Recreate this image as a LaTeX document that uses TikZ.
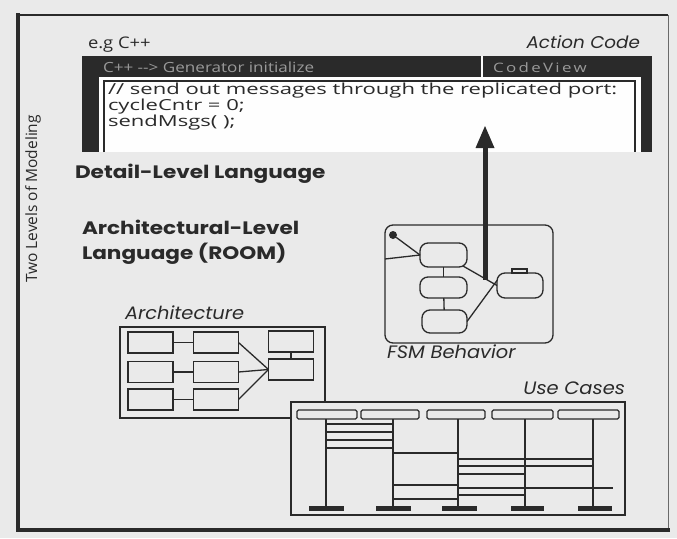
\documentclass[tikz,border=0pt]{standalone}
\usepackage{fontspec}
\setmainfont{Open Sans}
\newfontfamily\codefont{Open Sans}[FakeStretch=1.45]
\newfontfamily\hdrfont{Open Sans}[FakeStretch=1.22]
\newfontfamily\cvfont{Open Sans}[FakeStretch=1.3, LetterSpace=18]
\newfontfamily\headfont{Poppins}[FakeStretch=1.2]
\newfontfamily\labfont{Poppins}[FakeStretch=1.08]
\newfontfamily\egfont{Open Sans}[FakeStretch=1.15]
\definecolor{bg}{HTML}{EAEAEA}
\definecolor{ink}{HTML}{2A2A2A}
\definecolor{hdr}{HTML}{9A9A9A}
\begin{document}
\begin{tikzpicture}[x=1pt,y=-1pt,
  every node/.style={inner sep=0pt, outer sep=0pt},
  thinline/.style={draw=ink, line width=1.3pt},
  blk/.style={draw=ink, line width=1.3pt, fill=bg, rectangle, minimum width=45pt, minimum height=21pt},
  state/.style={draw=ink, line width=1.3pt, fill=bg, rectangle, rounded corners=8pt},
  lhead/.style={draw=ink, line width=1.2pt, fill=bg, rectangle, rounded corners=1.5pt, minimum height=9pt},
  bar/.style={fill=ink, rectangle, minimum height=5pt},
  msg/.style={draw=ink, line width=1.2pt},
  codetxt/.style={anchor=base west, font=\codefont\fontsize{15.2}{16}\selectfont, text=ink},
  headtxt/.style={anchor=base west, font=\headfont\bfseries\fontsize{18}{18}\selectfont, text=ink},
  lab/.style={font=\labfont\itshape\fontsize{18}{18}\selectfont, text=ink}]
\useasboundingbox (0,0) rectangle (677,538);
\fill[bg] (0,0) rectangle (677,538);
% outer frame
\draw[ink, line width=1.6pt] (18,15) -- (668,15);
\draw[ink!70, line width=1pt] (668,15) -- (668,530);
\draw[ink, line width=4pt] (18,13) -- (18,530) -- (670,530);
% vertical label
\node[rotate=90, font=\fontsize{15.5}{16}\selectfont, text=ink] (lvl) at (33,199) {Two Levels of Modeling};
% code window
\node[anchor=base west, font=\egfont\fontsize{16}{16}\selectfont, text=ink] (eg) at (88,48) {e.g C++};
\node[anchor=base east, lab, font=\labfont\itshape\fontsize{17}{18}\selectfont] (ac) at (640,48) {Action Code};
\fill[ink] (82,56) rectangle (652,152);
\fill[white!96!bg] (99,77) rectangle (641,152);
\draw[ink, line width=2pt] (104,152) -- (104,81) -- (635,81) -- (635,152);
\draw[white!80!bg, line width=2pt] (482,56) -- (482,77);
\node[anchor=base west, font=\hdrfont\fontsize{14}{14}\selectfont, text=hdr] (gen) at (103,72) {C++ --> Generator initialize};
\node[anchor=base west, font=\cvfont\fontsize{13}{14}\selectfont, text=hdr] (cv) at (493,72) {CodeView};
\node[codetxt] (c1) at (108,94) {// send out messages through the replicated port:};
\node[codetxt] (c2) at (108,110) {cycleCntr = 0;};
\node[codetxt] (c3) at (108,126) {sendMsgs( );};
% headings
\node[headtxt] (dl) at (75,178) {Detail-Level Language};
\node[headtxt] (al1) at (82,234) {Architectural-Level};
\node[headtxt] (al2) at (82,259) {Language (ROOM)};
% architecture
\node[anchor=base west, lab] (archlab) at (125,319) {Architecture};
\draw[thinline] (120,327) rectangle (325,418);
\node[blk] (A) at (150.5,342.5) {};
\node[blk] (B) at (216,342.5) {};
\node[blk] (C) at (291,341.5) {};
\node[blk] (D) at (150.5,372) {};
\node[blk] (E) at (216,372) {};
\node[blk] (F) at (291,369.5) {};
\node[blk] (G) at (150.5,399.5) {};
\node[blk] (H) at (216,399.5) {};
\draw[thinline] (A) -- (B);
\draw[thinline] (D) -- (E);
\draw[thinline] (G) -- (H);
\draw[thinline] (C) -- (F);
\draw[thinline] (B.east) -- (F.west);
\draw[thinline] (E.east) -- (F.west);
\draw[thinline] (H.east) -- (F.west);
% FSM
\draw[thinline, rounded corners=8pt, fill=bg] (385,225) rectangle (553,343);
\node[state, minimum width=47pt, minimum height=24pt] (S1) at (443.5,255) {};
\node[state, minimum width=47pt, minimum height=21pt] (S2) at (443.5,287.5) {};
\node[state, minimum width=45pt, minimum height=23pt] (S3) at (444.5,321.5) {};
\node[state, minimum width=46pt, minimum height=25pt] (S4) at (520,285.5) {};
\draw[thinline, fill=bg] (512,273) rectangle (527,269);
\node[circle, fill=ink, minimum size=8pt] (init) at (393,235) {};
\draw[thinline] (init) -- (S1.west);
\draw[thinline] (385,259) -- (S1.west);
\draw[thinline] (S1) -- (S2);
\draw[thinline] (S2) -- (S3);
\draw[thinline] (S1.south east) ++(-4,-1) coordinate (t1) -- (S4.west) coordinate[pos=0.7] (tmid);
\draw[thinline] (S3.east) -- ([yshift=5pt]S4.west);
\node[anchor=base west, lab] (fsmlab) at (387,358) {FSM Behavior};
% arrow
\coordinate (tip) at (485,126);
\draw[ink, line width=5pt] (tmid -| tip) -- (485,146);
\fill[ink] (475.5,148) -- (494.5,148) -- (tip) -- cycle;
% use cases
\node[anchor=base east, lab] (uclab) at (625,394) {Use Cases};
\draw[thinline, fill=bg] (291,402) rectangle (625,515);
\node[lhead, minimum width=60pt] (h1) at (327,414.5) {};
\node[lhead, minimum width=58pt] (h2) at (390,414.5) {};
\node[lhead, minimum width=58pt] (h3) at (456,414.5) {};
\node[lhead, minimum width=61pt] (h4) at (522.5,414.5) {};
\node[lhead, minimum width=61pt] (h5) at (588.5,414.5) {};
\node[bar, minimum width=35pt] (b1) at (326,508.5) {};
\node[bar, minimum width=35pt] (b2) at (393,508.5) {};
\node[bar, minimum width=35pt] (b3) at (459,508.5) {};
\node[bar, minimum width=33pt] (b4) at (527,508.5) {};
\node[bar, minimum width=34pt] (b5) at (595,508.5) {};
\coordinate (x1) at (326,0);
\coordinate (x2) at (393,0);
\coordinate (x3) at (458,0);
\coordinate (x4) at (525,0);
\coordinate (x5) at (593,0);
\foreach \i in {1,...,5} { \draw[msg] (x\i |- h\i.south) -- (x\i |- b\i.north); }
\foreach \y in {424,432,440,448} { \draw[msg] (x1 |- 0,\y) -- (x2 |- 0,\y); }
\foreach \y in {453,485,499} { \draw[msg] (x2 |- 0,\y) -- (x3 |- 0,\y); }
\foreach \y in {459,466} { \draw[msg] (x3 |- 0,\y) -- (x5 |- 0,\y); }
\foreach \y in {474,495} { \draw[msg] (x3 |- 0,\y) -- (x4 |- 0,\y); }
\coordinate (far) at (613,488);
\draw[msg] (x3 |- far) -- (far);
\end{tikzpicture}
\end{document}
